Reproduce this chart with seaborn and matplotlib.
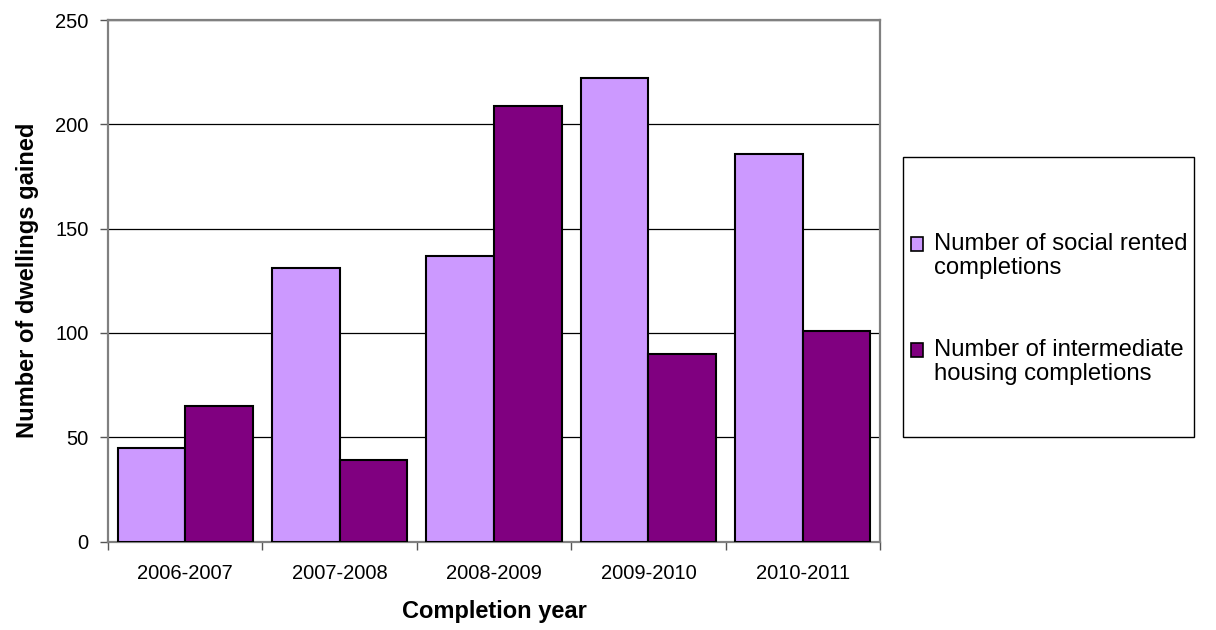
import matplotlib
matplotlib.use("Agg")
import matplotlib.pyplot as plt
from matplotlib.patches import Rectangle
from matplotlib.legend_handler import HandlerPatch
from matplotlib.ticker import FixedLocator, MultipleLocator
import pandas as pd
import seaborn as sns

# Completions by year
years = ["2006-2007", "2007-2008", "2008-2009", "2009-2010", "2010-2011"]
social_rented = [45, 131, 137, 222, 186]
intermediate = [65, 39, 209, 90, 101]
series_names = ["Number of social rented\ncompletions",
                 "Number of intermediate\nhousing completions"]
colors = ["#CC99FF", "#800080"]

df = pd.DataFrame({
    "year": years * 2,
    "value": social_rented + intermediate,
    "series": [series_names[0]] * len(years) + [series_names[1]] * len(years),
})

sns.set_theme(style="white")
plt.rcParams["font.family"] = ["Liberation Sans", "DejaVu Sans"]
plt.rcParams["text.color"] = "black"
plt.rcParams["axes.labelcolor"] = "black"

W, H = 1216, 630
fig = plt.figure(figsize=(W / 100, H / 100), dpi=100)
ax = fig.add_axes([108 / W, 1 - 541.5 / H, (880 - 108) / W, (541.5 - 20) / H])

sns.barplot(data=df, x="year", y="value", hue="series", order=years,
            hue_order=series_names, palette=colors, width=0.875,
            edgecolor="black", linewidth=1.5, saturation=1, ax=ax,
            legend=True, zorder=3)

ax.set_ylim(0, 250)
ax.set_xlim(-0.5, len(years) - 0.5)
ax.yaxis.set_major_locator(MultipleLocator(50))
ax.grid(axis="y", color="black", linewidth=0.9, zorder=0)
ax.grid(axis="x", visible=False)
ax.set_axisbelow(True)

for sp in ax.spines.values():
    sp.set_color("#808080")
    sp.set_linewidth(1.6)
    sp.set_visible(True)

ax.tick_params(axis="y", which="major", left=True, length=6, width=1,
               color="#555555", pad=8, labelsize=14.5, labelcolor="black")
ax.tick_params(axis="x", which="major", bottom=False, pad=10.5,
               labelsize=14.5, labelcolor="black")
ax.xaxis.set_minor_locator(FixedLocator([i - 0.5 for i in range(len(years) + 1)]))
ax.tick_params(axis="x", which="minor", bottom=True, length=6, width=1,
               color="#555555")

ax.set_xlabel("Completion year", fontsize=17, fontweight="bold", color="black")
ax.set_ylabel("Number of dwellings gained", fontsize=17, fontweight="bold",
              color="black")
ax.xaxis.set_label_coords(0.5, -0.113)
ax.yaxis.set_label_coords(-0.09, 0.5)


def top_line_square(legend, orig_handle, xdescent, ydescent, width, height,
                    fontsize):
    # square marker sitting level with the first line of a two-line label
    return Rectangle((-xdescent, -ydescent + 0.5 * fontsize), width, height)


handles, labels = ax.get_legend_handles_labels()
leg = ax.legend(handles, labels, loc="upper left",
                bbox_transform=fig.transFigure,
                bbox_to_anchor=(911 / W, 1 - 233 / H), frameon=False,
                fontsize=17.2, borderpad=0, borderaxespad=0, labelspacing=2.5,
                handlelength=0.52, handleheight=0.52, handletextpad=0.46,
                handler_map={h: HandlerPatch(patch_func=top_line_square)
                             for h in handles})
for t in leg.get_texts():
    t.set_linespacing(1.12)
    t.set_color("black")
for h in leg.legend_handles:
    h.set_edgecolor("black")
    h.set_linewidth(1.2)

fig.patches.append(Rectangle((903 / W, 1 - 437 / H), (1194 - 903) / W,
                             (437 - 157) / H, transform=fig.transFigure,
                             fill=False, edgecolor="black", linewidth=1))

fig.savefig("out.png", dpi=100, facecolor="white")
